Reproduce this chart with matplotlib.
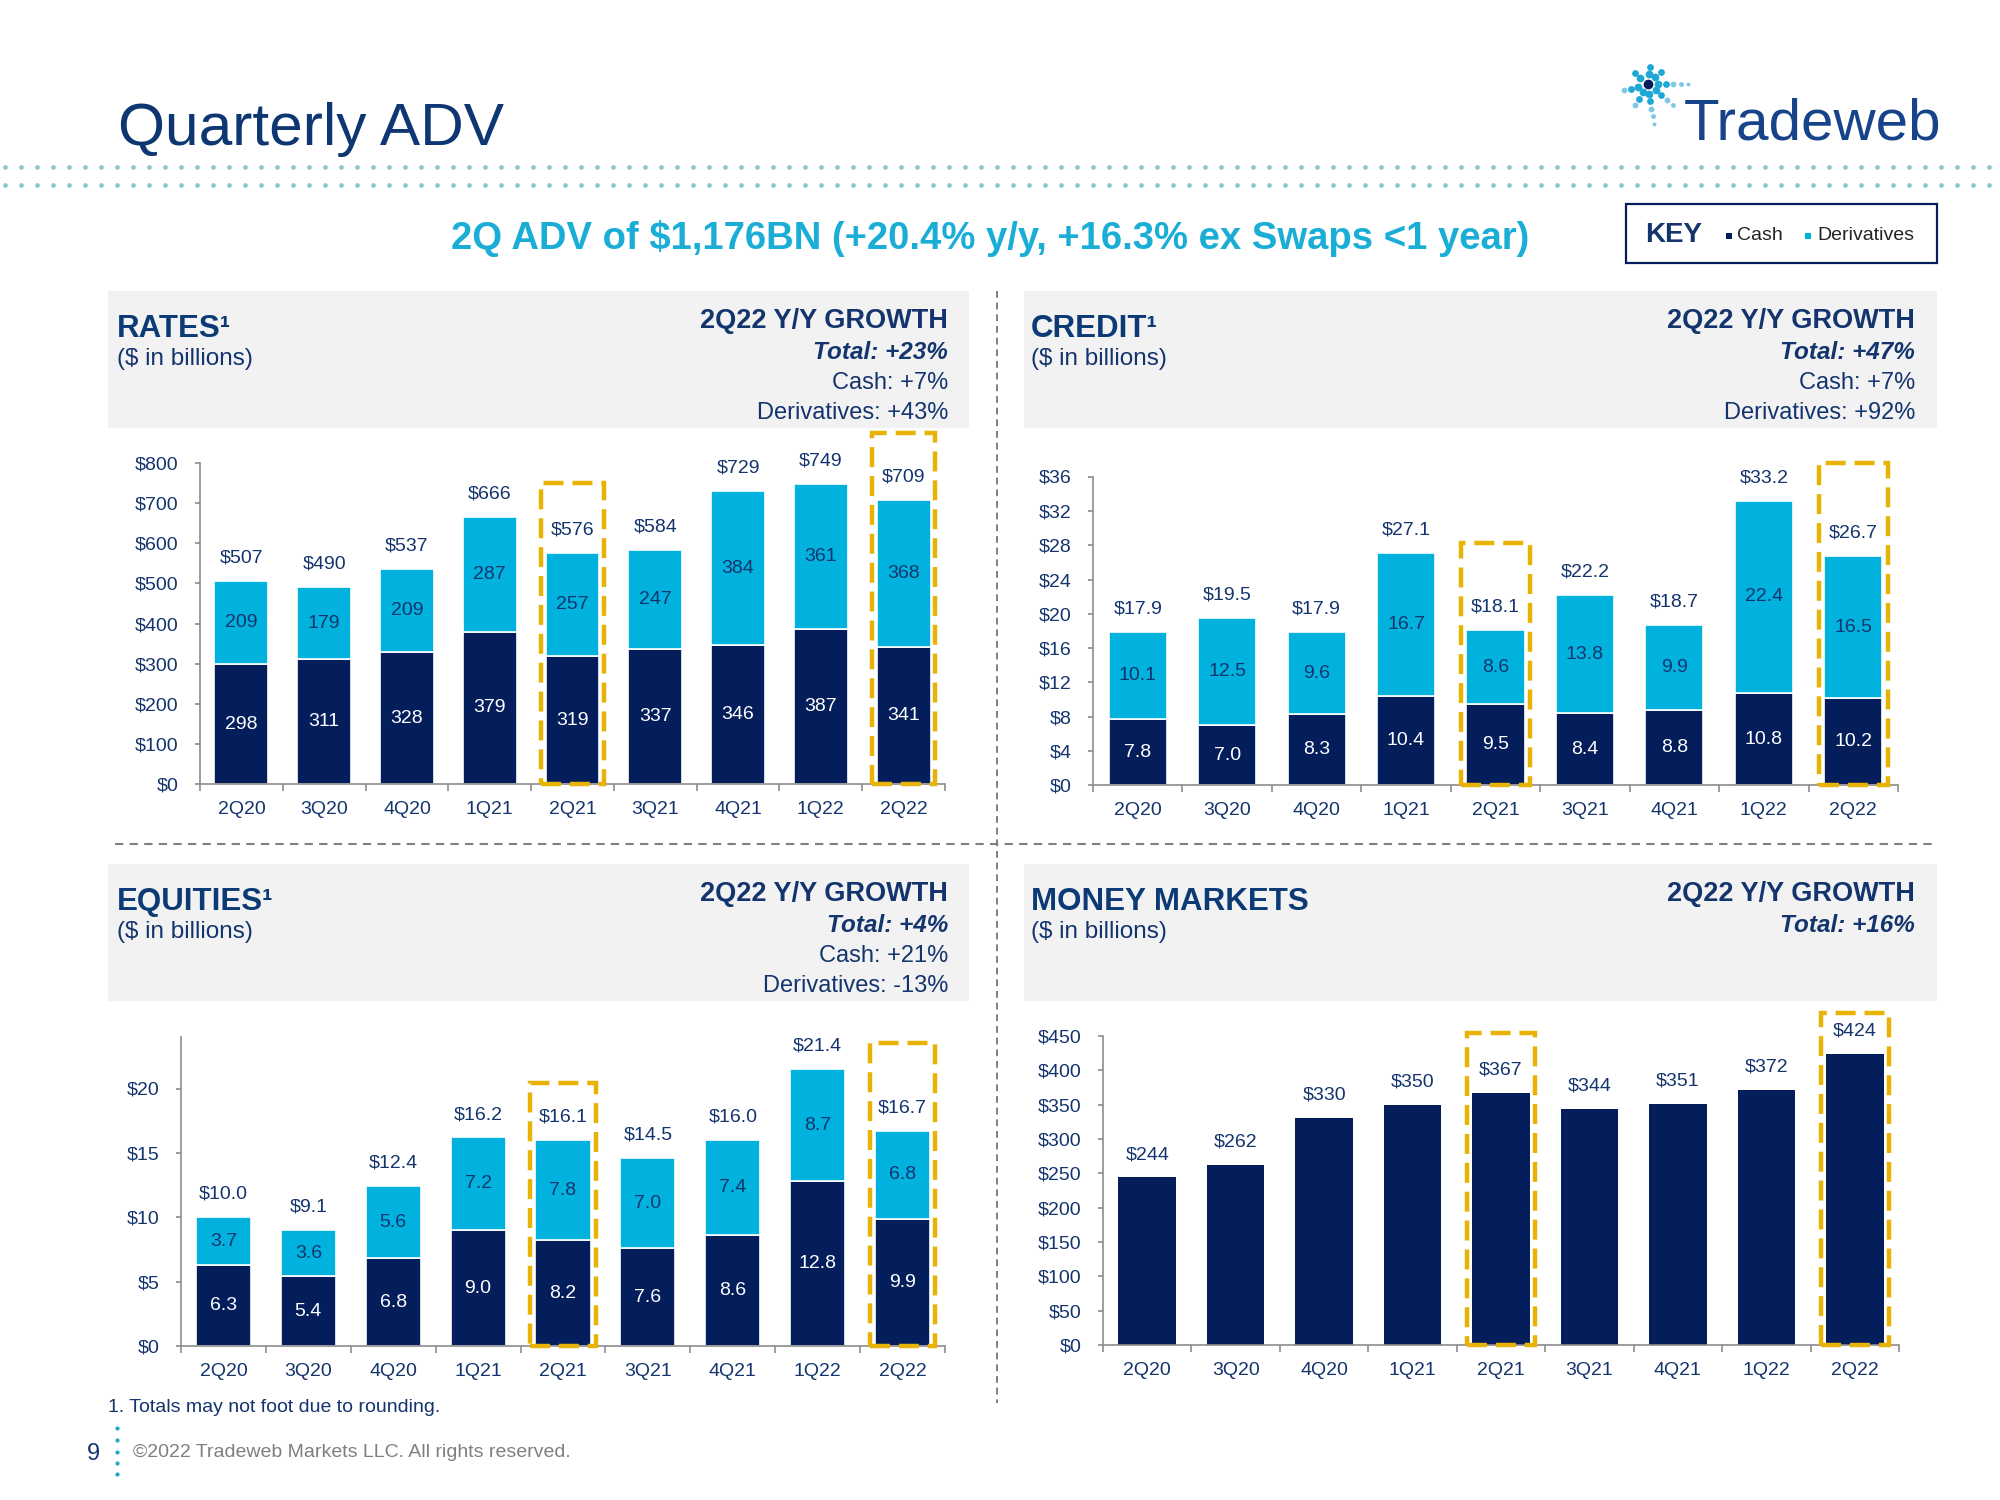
import numpy as np
import matplotlib
matplotlib.use("Agg")
import matplotlib.pyplot as plt
from matplotlib import font_manager
from matplotlib.patches import Rectangle
from matplotlib.lines import Line2D

# ---- data ----
quarters = ["2Q20", "3Q20", "4Q20", "1Q21", "2Q21", "3Q21", "4Q21", "1Q22", "2Q22"]

rates_cash = [298, 311, 328, 379, 319, 337, 346, 387, 341]
rates_deriv = [209, 179, 209, 287, 257, 247, 384, 361, 368]
rates_total = [507, 490, 537, 666, 576, 584, 729, 749, 709]

credit_cash = [7.8, 7.0, 8.3, 10.4, 9.5, 8.4, 8.8, 10.8, 10.2]
credit_deriv = [10.1, 12.5, 9.6, 16.7, 8.6, 13.8, 9.9, 22.4, 16.5]
credit_total = [17.9, 19.5, 17.9, 27.1, 18.1, 22.2, 18.7, 33.2, 26.7]

eq_cash = [6.3, 5.4, 6.8, 9.0, 8.2, 7.6, 8.6, 12.8, 9.9]
eq_deriv = [3.7, 3.6, 5.6, 7.2, 7.8, 7.0, 7.4, 8.7, 6.8]
eq_total = [10.0, 9.1, 12.4, 16.2, 16.1, 14.5, 16.0, 21.4, 16.7]

mm_total = [244, 262, 330, 350, 367, 344, 351, 372, 424]

rates_growth = ["Total: +23%", "Cash: +7%", "Derivatives: +43%"]
credit_growth = ["Total: +47%", "Cash: +7%", "Derivatives: +92%"]
eq_growth = ["Total: +4%", "Cash: +21%", "Derivatives: -13%"]
mm_growth = ["Total: +16%"]

highlight = [4, 8]  # 2Q21 and 2Q22

# ---- style ----
NAVY = "#041E5C"
CYAN = "#00B2DD"
TXT = "#14346E"
GOLD = "#E9B305"
GRAY = "#8C8C8C"
HEADBG = "#F2F2F2"

plt.rcParams["font.family"] = ["Liberation Sans", "DejaVu Sans"]
names = {f.name for f in font_manager.fontManager.ttflist}
if "Liberation Sans Narrow" in names:
    HEAD_FONT, HEAD_SIZE = ["Liberation Sans Narrow", "Liberation Sans"], 27
else:
    HEAD_FONT, HEAD_SIZE = ["Liberation Sans", "DejaVu Sans"], 22.5

W, H = 2000, 1500
fig = plt.figure(figsize=(20, 15), dpi=100)


def fx(x):
    return x / W


def fy(y):
    return 1 - y / H


def put(x, y, s, **kw):
    kw.setdefault("color", TXT)
    kw.setdefault("va", "baseline")
    return fig.text(fx(x), fy(y), s, **kw)


# ---- title block ----
put(118, 145, "Quarterly ADV", fontsize=43.5, color="#0E3672")
dots_x = np.arange(5, 2000, 16)
for yy in (167, 185):
    fig.add_artist(Line2D(fx(dots_x), np.full(len(dots_x), fy(yy)), ls="none",
                          marker="o", ms=3.4, mew=0, color="#8FC6D3",
                          transform=fig.transFigure))
put(990, 249, "2Q ADV of $1,176BN (+20.4% y/y, +16.3% ex Swaps <1 year)",
    ha="center", fontsize=27.5, weight="bold", color="#1AAED6")

# logo
put(1684, 140, "Tradeweb", fontsize=42, color="#17438A")
cx, cy = 1648, 84
spokes = [(0, 5), (44, 2), (85, 2), (140, 2), (195, 3), (238, 3), (278, 5), (320, 4)]
for ang, n in spokes:
    for k in range(n):
        r = 10 + 7.5 * k
        a = np.deg2rad(ang)
        fig.add_artist(Line2D([fx(cx + r * np.cos(a))], [fy(cy - r * np.sin(a))],
                              marker="o", ms=5.6 - 0.7 * k, mew=0,
                              color="#1FA8D6" if k < 2 else "#7EC8E3",
                              transform=fig.transFigure))
fig.add_artist(Line2D([fx(cx)], [fy(cy)], marker="o", ms=7, mew=0, color=NAVY,
                      transform=fig.transFigure))

# key
fig.add_artist(Rectangle((fx(1626), fy(263)), (1937 - 1626) / W, (263 - 204) / H,
                         fill=False, ec=NAVY, lw=1.6, transform=fig.transFigure))
put(1645, 235, "KEY", fontsize=20, weight="bold", va="center")
fig.add_artist(Line2D([fx(1729)], [fy(236)], marker="s", ms=5, mew=0, color=NAVY,
                      transform=fig.transFigure))
put(1737, 235, "Cash", fontsize=14, va="center", color="#222222")
fig.add_artist(Line2D([fx(1808)], [fy(236)], marker="s", ms=5, mew=0, color=CYAN,
                      transform=fig.transFigure))
put(1817, 235, "Derivatives", fontsize=14, va="center", color="#222222")

# dividers
fig.add_artist(Line2D([fx(115), fx(1937)], [fy(844), fy(844)], color="#808080",
                      lw=1.5, ls=(0, (4, 3)), transform=fig.transFigure))
fig.add_artist(Line2D([fx(997), fx(997)], [fy(291), fy(1403)], color="#808080",
                      lw=1.4, ls=(0, (3.5, 2.5)), transform=fig.transFigure))


# ---- header boxes ----
def header(x0, x1, y0, name, growth, name_x, right_x):
    fig.add_artist(Rectangle((fx(x0), fy(y0 + 137)), (x1 - x0) / W, 137 / H,
                             color=HEADBG, lw=0, transform=fig.transFigure, zorder=0))
    put(name_x, y0 + 46, name, family=HEAD_FONT, fontsize=HEAD_SIZE, weight="bold",
        color="#0B3A75")
    put(name_x, y0 + 74, "($ in billions)", fontsize=17.5)
    put(right_x, y0 + 37, "2Q22 Y/Y GROWTH", fontsize=19.5, weight="bold", ha="right")
    for j, g in enumerate(growth):
        if j == 0:
            put(right_x, y0 + 68, g, fontsize=17.5, weight="bold", style="italic", ha="right")
        else:
            put(right_x, y0 + 68 + 30 * j, g, fontsize=17, ha="right")


header(108, 969, 291, "RATES¹", rates_growth, 117, 948)
header(1024, 1937, 291, "CREDIT¹", credit_growth, 1031, 1915)
header(108, 969, 864, "EQUITIES¹", eq_growth, 117, 948)
header(1024, 1937, 864, "MONEY MARKETS", mm_growth, 1031, 1915)


# ---- charts ----
def panel(px, ylim, yticks, total, total_fmt, cash=None, deriv=None, box_tops=()):
    x0, x1, ybot, ytop = px
    ax = fig.add_axes([fx(x0), fy(ybot), (x1 - x0) / W, (ybot - ytop) / H])
    x = np.arange(len(quarters))
    if cash is None:
        ax.bar(x, total, 0.65, color=NAVY, zorder=2)
        tops = total
    else:
        ax.bar(x, cash, 0.65, color=NAVY, edgecolor="white", linewidth=1.2, zorder=2)
        ax.bar(x, deriv, 0.65, bottom=cash, color=CYAN, edgecolor="white",
               linewidth=1.2, zorder=2)
        tops = [c + d for c, d in zip(cash, deriv)]
        for i in x:
            ax.text(i, cash[i] / 2, total_fmt.format(cash[i]).lstrip("$"), ha="center",
                    va="center", color="white", fontsize=14, zorder=4)
            ax.text(i, cash[i] + deriv[i] / 2, total_fmt.format(deriv[i]).lstrip("$"),
                    ha="center", va="center", color=TXT, fontsize=14, zorder=4)
    for i in x:
        ax.annotate(total_fmt.format(total[i]), (i, tops[i]), xytext=(0, 16.5),
                    textcoords="offset points", ha="center", va="center",
                    color=TXT, fontsize=14, annotation_clip=False)
    for i, top in zip(highlight, box_tops):
        ax.add_patch(Rectangle((i - 0.385, 0), 0.77, top, fill=False, ec=GOLD, lw=3.2,
                               ls=(0, (4.5, 2)), clip_on=False, zorder=6))
    ax.set_xlim(-0.5, len(quarters) - 0.5)
    ax.set_ylim(*ylim)
    ax.set_xticks(x)
    ax.set_xticklabels(quarters)
    ax.set_xticks(np.arange(-0.5, len(quarters), 1), minor=True)
    ax.set_yticks(yticks)
    ax.set_yticklabels(["${:,.0f}".format(v) for v in yticks])
    ax.tick_params(axis="x", which="major", length=0, pad=12, labelsize=14,
                   labelcolor=TXT)
    ax.tick_params(axis="x", which="minor", length=5, width=1.2, color=GRAY)
    ax.tick_params(axis="y", length=3.5, width=1.2, color=GRAY, pad=12,
                   labelsize=14, labelcolor=TXT)
    for s in ("top", "right"):
        ax.spines[s].set_visible(False)
    for s in ("left", "bottom"):
        ax.spines[s].set_color(GRAY)
        ax.spines[s].set_linewidth(1.2)
    ax.set_facecolor("none")
    return ax


panel((200, 945, 784, 463), (0, 800), range(0, 801, 100), rates_total, "${:.0f}",
      rates_cash, rates_deriv, box_tops=(750, 874))
panel((1093, 1898, 785.5, 476.5), (0, 36), range(0, 37, 4), credit_total, "${:.1f}",
      credit_cash, credit_deriv, box_tops=(28.3, 37.6))
panel((181, 945, 1346, 1037), (0, 24), range(0, 21, 5), eq_total, "${:.1f}",
      eq_cash, eq_deriv, box_tops=(20.4, 23.5))
panel((1103, 1899, 1345, 1036), (0, 450), range(0, 451, 50), mm_total, "${:.0f}",
      box_tops=(455, 484))

# ---- footer ----
put(108, 1412, "1. Totals may not foot due to rounding.", fontsize=14)
put(87, 1460, "9", fontsize=17)
fdots = [1428, 1440, 1452, 1463, 1474]
fig.add_artist(Line2D(np.full(5, fx(117)), [fy(v) for v in fdots], ls="none", marker="o",
                      ms=3, mew=0, color="#1FA8C8", transform=fig.transFigure))
put(133, 1457, "©2022 Tradeweb Markets LLC. All rights reserved.", fontsize=14,
    color="#7F7F7F")

fig.savefig("out.png", dpi=100)
